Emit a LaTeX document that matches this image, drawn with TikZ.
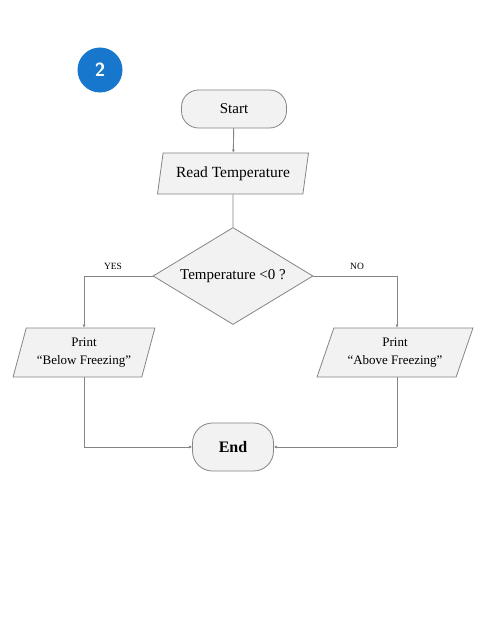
\documentclass[tikz,border=0pt]{standalone}
\usepackage{fontspec}
\setmainfont{Liberation Serif}
\usetikzlibrary{shapes.geometric,arrows.meta}
\definecolor{boxfill}{HTML}{F2F2F2}
\definecolor{boxline}{HTML}{858585}
\definecolor{badge}{HTML}{1677CC}
\begin{document}
\begin{tikzpicture}[x=1pt,y=-1pt,
  every node/.style={font=\fontsize{13}{18}\selectfont},
  term/.style={draw=boxline,fill=boxfill,rounded corners=17pt,line width=0.8pt,align=center,inner sep=0pt},
  io/.style={draw=boxline,fill=boxfill,trapezium,trapezium left angle=72,trapezium right angle=108,trapezium stretches=true,line width=0.8pt,align=center,inner sep=0pt},
  dec/.style={draw=boxline,fill=boxfill,diamond,line width=0.8pt,inner sep=0pt},
  conn/.style={draw=boxline,line width=0.9pt,-{Latex[length=3pt,width=3pt]}},
  line/.style={draw=boxline,line width=0.9pt},
  lbl/.style={font=\fontsize{9.5}{10}\selectfont}]
\useasboundingbox (0,0) rectangle (490,618);
\fill[white] (0,0) rectangle (490,618);
\node[circle,fill=badge,minimum size=45pt,inner sep=0pt,text=white,font=\fontsize{19}{19}\sffamily\bfseries] (badge) at (100,70) {2};
\node[term,minimum width=105pt,minimum height=38pt,font=\fontsize{15}{17}\selectfont] (start) at (234,109) {Start};
\node[io,minimum width=151pt,minimum height=41pt,font=\fontsize{15.5}{17}\selectfont] (read) at (233,173.5) {Read Temperature};
\node[dec,minimum width=160pt,minimum height=97pt,aspect=1.65,font=\fontsize{15}{17}\selectfont] (cond) at (233,276) {Temperature <0 ?};
\node[io,trapezium left angle=70,trapezium right angle=110,minimum width=142pt,minimum height=49pt] (below) at (84,352.5) {Print\\``Below Freezing''};
\node[io,trapezium left angle=66,trapezium right angle=114,minimum width=156pt,minimum height=49pt] (above) at (395,352.5) {Print\\``Above Freezing''};
\node[term,minimum width=81pt,minimum height=48pt,rounded corners=20pt,font=\fontsize{16}{18}\selectfont\bfseries] (end) at (233,447) {End};
\coordinate (yc) at (84,276);
\coordinate (nc) at (397,276);
\coordinate (bl) at (84,447);
\coordinate (br) at (397,447);
\path[conn] (start) -- (read);
\path[line] (read) -- (cond);
\path[line] (cond.west) -- (yc);
\path[conn] (yc) -- (yc |- below.north);
\path[line] (cond.east) -- (nc);
\path[conn] (nc) -- (nc |- above.north);
\path[line] (below.south -| bl) -- (bl);
\path[conn] (bl) -- (end.west);
\path[line] (above.south -| br) -- (br);
\path[conn] (br) -- (end.east);
\node[lbl] (yes) at (113,266) {YES};
\node[lbl] (no) at (357,266) {NO};
\end{tikzpicture}
\end{document}
